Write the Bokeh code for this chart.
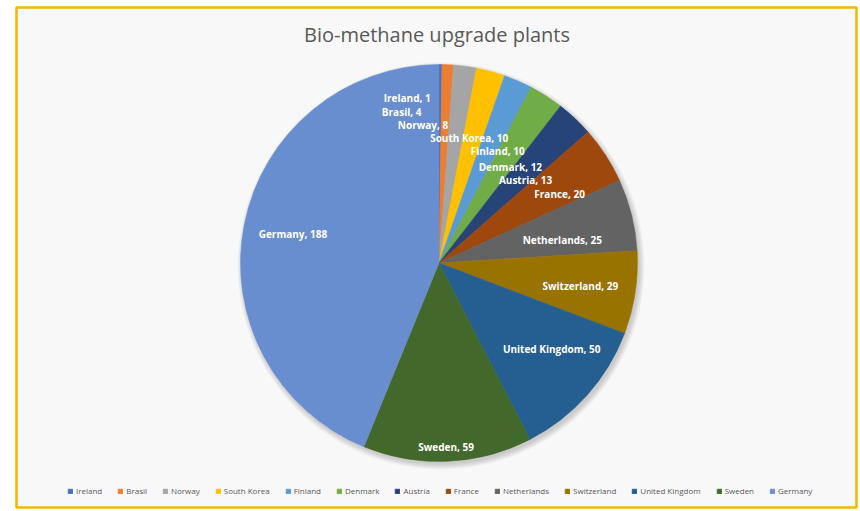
import numpy as np
from bokeh.plotting import figure
from bokeh.models import ColumnDataSource, Legend, LegendItem, Range1d
from bokeh.core.properties import value
from bokeh.embed import file_html
from bokeh.resources import INLINE

# ---------------- data ----------------
title_text = "Bio-methane upgrade plants"
countries = ["Ireland", "Brasil", "Norway", "South Korea", "Finland", "Denmark",
             "Austria", "France", "Netherlands", "Switzerland", "United Kingdom",
             "Sweden", "Germany"]
plants = [1, 4, 8, 10, 10, 12, 13, 20, 25, 29, 50, 59, 188]

# ---------------- style / layout ----------------
colors = ["#4472C4", "#ED7D31", "#A5A5A5", "#FFC000", "#5B9BD5", "#70AD47",
          "#264478", "#9E480E", "#636363", "#997300", "#255E91", "#43682B",
          "#698ED0"]
FW, FH = 840, 500          # frame size in px (1 data unit = 1 px)
CX, CY, R = 422.5, 244.5, 198.5
label_rfrac = [0.83, 0.76, 0.69, 0.66, 0.64, 0.60, 0.60, 0.70, 0.63, 0.72, 0.72, 0.93, 0.75]
label_dx = [-33, -44, -34, -4, 8, 7, 5, 4, 2, 0, 6, -1, 0]
label_dy = [0, 0, -2, 1, 5, 4, 4, 7, 7, 2, -9, 0, 0]   # screen px, down positive
FONT = "Open Sans"

vals = np.array(plants, dtype=float)
total = vals.sum()
cum = np.cumsum(vals)
start_frac = (cum - vals) / total
end_frac = cum / total
start_angle = np.pi / 2 - 2 * np.pi * start_frac
end_angle = np.pi / 2 - 2 * np.pi * end_frac
mid = 2 * np.pi * (start_frac + end_frac) / 2   # clockwise from top
rr = np.array(label_rfrac) * R
lx = CX + rr * np.sin(mid) + np.array(label_dx)
ly = CY + rr * np.cos(mid) - np.array(label_dy)
labels = [f"{c}, {v}" for c, v in zip(countries, plants)]

src = ColumnDataSource(dict(country=countries, value=plants, color=colors,
                            start=start_angle, end=end_angle,
                            lx=lx, ly=ly, label=labels))

p = figure(width=FW + 18, height=FH + 9, output_backend="svg", toolbar_location=None,
           x_range=Range1d(0, FW), y_range=Range1d(0, FH),
           x_axis_location=None, y_axis_location=None,
           min_border_left=16, min_border_right=2, min_border_top=7, min_border_bottom=2)
p.grid.visible = False
p.background_fill_color = "#F8F8F8"
p.border_fill_color = "white"
p.outline_line_color = "#F2B705"
p.outline_line_width = 2.5

# soft shadow
for k in range(6):
    p.circle(x=[CX + 2], y=[CY - 3], radius=R + k, fill_color="black",
             fill_alpha=0.03, line_color=None)

wedges = p.wedge(x=CX, y=CY, radius=R, start_angle="start", end_angle="end",
                 direction="clock", fill_color="color", line_color="color",
                 line_width=0.5, source=src)

p.text(x="lx", y="ly", text="label", source=src, text_color="white",
       text_font=value(FONT), text_font_style="bold", text_font_size="10px",
       text_align="center", text_baseline="middle")

p.text(x=[CX - 2], y=[FH - 27], text=[title_text], text_color="#595959",
       text_font=value(FONT), text_font_size="20px", text_align="center",
       text_baseline="middle")

items = [LegendItem(label=c, renderers=[wedges], index=i) for i, c in enumerate(countries)]
legend = Legend(items=items, orientation="horizontal", location=(51, 11),
                glyph_width=6, glyph_height=6, label_height=10, label_standoff=3,
                spacing=15, padding=0, margin=0,
                label_text_font=FONT, label_text_font_size="8px",
                label_text_color="#595959",
                background_fill_alpha=0, border_line_color=None)
p.add_layout(legend)

open("out.html", "w").write(file_html(p, INLINE))
